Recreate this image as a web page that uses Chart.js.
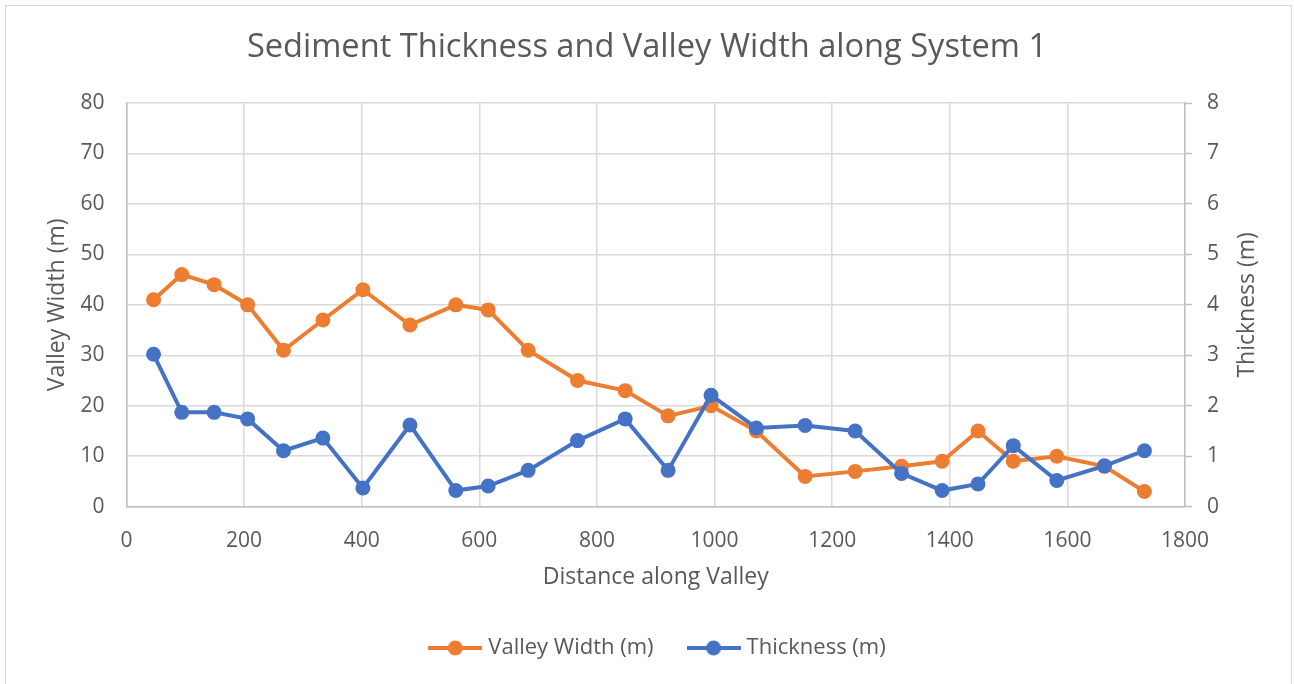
<!DOCTYPE html>
<html>
<head>
<meta charset="utf-8">
<script src="https://cdn.jsdelivr.net/npm/chart.js@4.4.1/dist/chart.umd.min.js"></script>
<style>
  html, body { margin: 0; padding: 0; background: #ffffff; }
  #wrap { position: relative; width: 1294px; height: 684px; }
</style>
</head>
<body>
<div id="wrap"><canvas id="c" width="1294" height="684"></canvas></div>
<script>
const chartTitle = 'Sediment Thickness and Valley Width along System 1';
const xTitle = 'Distance along Valley';
const leftTitle = 'Valley Width (m)';
const rightTitle = 'Thickness (m)';
const seriesNames = ['Valley Width (m)', 'Thickness (m)'];

const distance = [46, 94, 149, 206, 267, 334, 402, 482, 560, 615, 683, 767, 848, 921, 994, 1071, 1154, 1239, 1318, 1387, 1448, 1508, 1582, 1663, 1731];
const valleyWidth = [41, 46, 44, 40, 31, 37, 43, 36, 40, 39, 31, 25, 23, 18, 20, 15, 6, 7, 8, 9, 15, 9, 10, 8, 3];
const thickness = [3.02, 1.87, 1.87, 1.74, 1.11, 1.36, 0.37, 1.62, 0.32, 0.41, 0.72, 1.31, 1.74, 0.72, 2.21, 1.56, 1.61, 1.50, 0.66, 0.32, 0.45, 1.21, 0.52, 0.81, 1.11];

const ORANGE = '#ED7D31';
const BLUE = '#4472C4';
const TEXT = '#595959';
const GRID = '#d9d9d9';
const AXIS = '#bfbfbf';
const FONT = "'Open Sans', sans-serif";

function legendIcon(color) {
  const cv = document.createElement('canvas');
  cv.width = 54; cv.height = 18;
  const g = cv.getContext('2d');
  g.strokeStyle = color; g.lineWidth = 4;
  g.beginPath(); g.moveTo(0, 9); g.lineTo(54, 9); g.stroke();
  g.fillStyle = color;
  g.beginPath(); g.arc(27, 9, 7.5, 0, Math.PI * 2); g.fill();
  return cv;
}
const icons = [legendIcon(ORANGE), legendIcon(BLUE)];

const widthPts = distance.map((d, i) => ({ x: d, y: valleyWidth[i] }));
const thickPts = distance.map((d, i) => ({ x: d, y: thickness[i] }));

const framePlugin = {
  id: 'frame',
  afterUpdate(chart) {
    if (chart.legend) { chart.legend.left += 12.5; chart.legend.right += 12.5; }
  },
  beforeDraw(chart) {
    const ctx = chart.ctx;
    ctx.save();
    ctx.fillStyle = '#ffffff';
    ctx.fillRect(0, 0, chart.width, chart.height);
    ctx.strokeStyle = GRID;
    ctx.lineWidth = 1;
    ctx.strokeRect(5.5, 5.5, 1286, 700);
    ctx.restore();
  },
  afterDraw(chart) {
    const ctx = chart.ctx;
    const a = chart.chartArea;
    ctx.save();
    ctx.fillStyle = TEXT;
    ctx.font = '23px ' + FONT;
    ctx.textAlign = 'center';
    ctx.textBaseline = 'middle';
    ctx.translate(1247, (a.top + a.bottom) / 2);
    ctx.rotate(-Math.PI / 2);
    ctx.fillText(rightTitle, 0, 0);
    ctx.restore();
  }
};

const plainTick = (v) => String(v);

new Chart(document.getElementById('c'), {
  type: 'scatter',
  data: {
    datasets: [
      {
        label: seriesNames[0],
        data: widthPts,
        yAxisID: 'y',
        showLine: true,
        borderColor: ORANGE,
        backgroundColor: ORANGE,
        borderWidth: 4,
        pointRadius: 7.5,
        pointBorderWidth: 0,
        pointHoverRadius: 7.5,
        pointStyle: 'circle',
        order: 1
      },
      {
        label: seriesNames[1],
        data: thickPts,
        yAxisID: 'y1',
        showLine: true,
        borderColor: BLUE,
        backgroundColor: BLUE,
        borderWidth: 4,
        pointRadius: 7.5,
        pointBorderWidth: 0,
        pointHoverRadius: 7.5,
        pointStyle: 'circle',
        order: 0
      }
    ]
  },
  options: {
    responsive: false,
    animation: false,
    events: [],
    layout: { padding: { left: 0, right: 0, top: 0, bottom: 15 } },
    plugins: {
      tooltip: { enabled: false },
      title: {
        display: true,
        text: chartTitle,
        color: TEXT,
        font: { family: FONT, size: 32.6, weight: 'normal', lineHeight: 1.2 },
        padding: { top: 28.45, bottom: 35.45 }
      },
      legend: {
        position: 'bottom',
        labels: {
          color: TEXT,
          font: { family: FONT, size: 22 },
          usePointStyle: true,
          pointStyleWidth: 44,
          padding: 38,
          generateLabels(chart) {
            return chart.data.datasets.map((ds, i) => ({
              text: ds.label,
              pointStyle: icons[i],
              fillStyle: ds.backgroundColor,
              strokeStyle: ds.borderColor,
              lineWidth: 0,
              fontColor: TEXT,
              hidden: false,
              datasetIndex: i
            }));
          }
        }
      }
    },
    scales: {
      x: {
        type: 'linear',
        position: 'bottom',
        min: 0, max: 1800,
        ticks: { stepSize: 200, color: TEXT, font: { family: FONT, size: 21 }, padding: 22, maxRotation: 0, callback: plainTick },
        grid: { color: GRID, lineWidth: 1.5, drawTicks: false },
        border: { color: AXIS, width: 1.5 },
        title: { display: true, text: xTitle, color: TEXT, font: { family: FONT, size: 23 }, padding: { top: 0, bottom: 8.2 } },
        afterFit(s) { s.height = 92.3; }
      },
      y: {
        type: 'linear',
        position: 'left',
        min: 0, max: 80,
        ticks: { stepSize: 10, color: TEXT, font: { family: FONT, size: 21 }, padding: 22, callback: plainTick },
        grid: { color: GRID, lineWidth: 1.5, drawTicks: false },
        border: { color: AXIS, width: 1.5 },
        title: { display: true, text: leftTitle, color: TEXT, font: { family: FONT, size: 23 }, padding: { top: 43.7, bottom: 0 } },
        afterFit(s) { s.width = 126.5; }
      },
      y1: {
        type: 'linear',
        position: 'right',
        min: 0, max: 8,
        ticks: { stepSize: 1, color: TEXT, font: { family: FONT, size: 21 }, padding: 15, callback: plainTick },
        grid: { drawOnChartArea: false, drawTicks: true, tickLength: 7, tickColor: AXIS, tickWidth: 1.5 },
        border: { color: AXIS, width: 1.5 },
        title: { display: false },
        afterFit(s) { s.width = 109; }
      }
    }
  },
  plugins: [framePlugin]
});
</script>
</body>
</html>
